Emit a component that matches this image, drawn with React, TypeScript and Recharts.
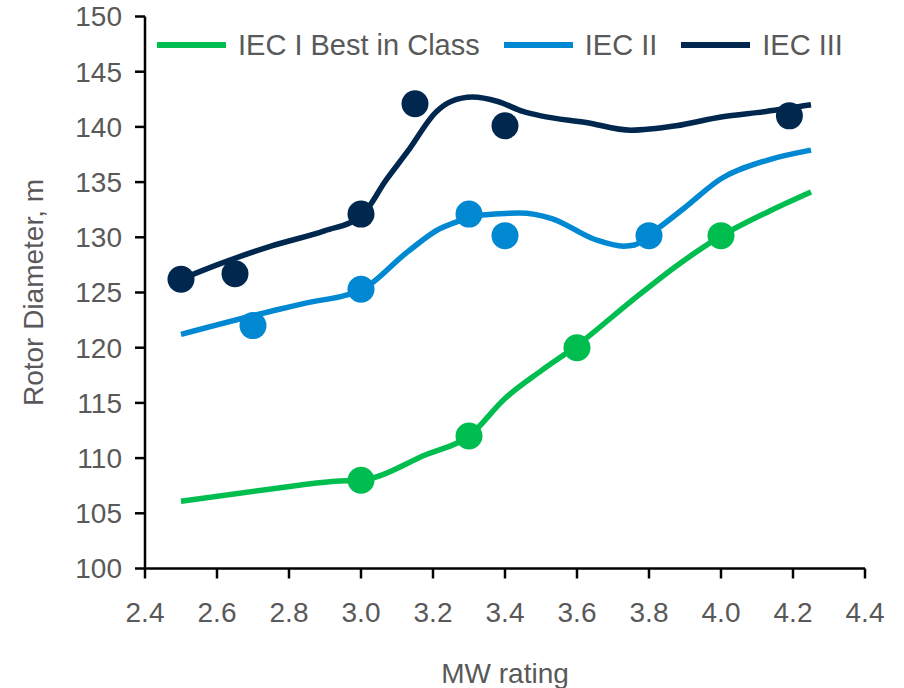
import React from 'react';
import { ComposedChart, Line, Scatter, XAxis, YAxis, Legend, Label } from 'recharts';

// Axis ticks
const xTicks = [2.4, 2.6, 2.8, 3.0, 3.2, 3.4, 3.6, 3.8, 4.0, 4.2, 4.4];
const yTicks = [100, 105, 110, 115, 120, 125, 130, 135, 140, 145, 150];

// Series names and colours
const seriesNames = ['IEC I Best in Class', 'IEC II', 'IEC III'];
const seriesColors = ['#00BD4F', '#0089D2', '#00284F'];

// Trend curves: [MW rating, rotor diameter m]
const iec1Curve: [number, number][] = [
  [2.5, 106.1], [2.75, 107.2], [2.93, 107.9], [3.0, 108.0], [3.18, 110.3],
  [3.3, 112.0], [3.4, 115.4], [3.5, 117.9], [3.6, 120.2], [3.75, 124.2],
  [3.88, 127.5], [4.0, 130.1], [4.13, 132.3], [4.25, 134.1],
];
const iec2Curve: [number, number][] = [
  [2.5, 121.2], [2.75, 123.3], [2.87, 124.2], [2.94, 124.6], [3.0, 125.2],
  [3.13, 128.7], [3.22, 130.8], [3.25, 131.2], [3.33, 132.0], [3.44, 132.2],
  [3.53, 131.7], [3.65, 129.8], [3.73, 129.2], [3.76, 129.3], [3.8, 130.2],
  [3.9, 132.7], [4.0, 135.3], [4.13, 137.0], [4.25, 137.9],
];
const iec3Curve: [number, number][] = [
  [2.5, 126.2], [2.6, 127.5], [2.75, 129.2], [2.9, 130.6], [3.0, 131.9],
  [3.07, 135.2], [3.13, 137.8], [3.21, 141.4], [3.25, 142.3], [3.31, 142.7],
  [3.38, 142.3], [3.45, 141.4], [3.5, 141.0], [3.625, 140.4], [3.75, 139.7],
  [3.875, 140.1], [4.0, 140.9], [4.125, 141.4], [4.25, 142.0],
];

// Individual turbine models: [MW rating, rotor diameter m]
const iec1Turbines: [number, number][] = [[3.0, 108.0], [3.3, 112.0], [3.6, 120.0], [4.0, 130.15]];
const iec2Turbines: [number, number][] = [[2.7, 122.0], [3.0, 125.3], [3.3, 132.1], [3.4, 130.15], [3.8, 130.15]];
const iec3Turbines: [number, number][] = [[2.5, 126.2], [2.65, 126.7], [3.0, 132.1], [3.15, 142.1], [3.4, 140.1], [4.19, 141.0]];

const toPoints = (arr: [number, number][]) => arr.map(([x, y]) => ({ x, y }));

const FONT = '"Liberation Sans", Arial, sans-serif';
const TEXT_COLOR = '#595959';
const AXIS_COLOR = '#000000';

const dotShape = (color: string) => (props: any) => (
  <circle cx={props.cx} cy={props.cy} r={13.5} fill={color} />
);

const LegendContent = (props: any) => {
  const items = (props.payload || []).filter((p: any) => p.type !== 'none');
  return (
    <div style={{ display: 'flex', alignItems: 'center', height: 34, fontFamily: FONT }}>
      {items.map((p: any, i: number) => (
        <div key={i} style={{ display: 'flex', alignItems: 'center', marginRight: 24 }}>
          <div style={{ width: 69, height: 6, background: p.color }} />
          <span style={{ marginLeft: 12, fontSize: 29, color: TEXT_COLOR, whiteSpace: 'nowrap' }}>{p.value}</span>
        </div>
      ))}
    </div>
  );
};

const YTitle = (props: any) => {
  const vb = props.viewBox;
  const cx = vb.x + 33;
  const cy = vb.y + vb.height / 2;
  return (
    <text x={cx} y={cy} transform={`rotate(-90 ${cx} ${cy})`} textAnchor="middle" dominantBaseline="central"
      fontFamily={FONT} fontSize={28} fill={TEXT_COLOR}>
      Rotor Diameter, m
    </text>
  );
};

const XTitle = (props: any) => {
  const vb = props.viewBox;
  return (
    <text x={vb.x + vb.width / 2} y={vb.y + 114} textAnchor="middle" fontFamily={FONT} fontSize={28} fill={TEXT_COLOR}>
      MW rating
    </text>
  );
};

export default function App() {
  const tickStyle = { fontFamily: FONT, fontSize: 28, fill: TEXT_COLOR };
  return (
    <div style={{ position: 'absolute', left: 0, top: 0, background: '#fff' }}>
      <ComposedChart width={904} height={688} margin={{ top: 16.5, right: 39, bottom: 0, left: 0 }}>
        <XAxis
          type="number"
          dataKey="x"
          domain={[2.4, 4.4]}
          ticks={xTicks}
          allowDataOverflow
          interval={0}
          tickFormatter={(v: number) => v.toFixed(1)}
          height={119.5}
          tickSize={10}
          tickMargin={24}
          tick={tickStyle}
          axisLine={{ stroke: AXIS_COLOR, strokeWidth: 2.5 }}
          tickLine={{ stroke: AXIS_COLOR, strokeWidth: 2.5 }}
        >
          <Label content={<XTitle />} />
        </XAxis>
        <YAxis
          type="number"
          domain={[100, 150]}
          ticks={yTicks}
          allowDataOverflow
          interval={0}
          width={145}
          tickSize={10}
          tickMargin={13}
          tick={tickStyle}
          axisLine={{ stroke: AXIS_COLOR, strokeWidth: 2.5 }}
          tickLine={{ stroke: AXIS_COLOR, strokeWidth: 2.5 }}
        >
          <Label content={<YTitle />} />
        </YAxis>
        <Legend
          layout="horizontal"
          verticalAlign="middle"
          align="center"
          content={<LegendContent />}
          wrapperStyle={{ top: 28, left: 157, width: 'auto' }}
        />
        <Line data={toPoints(iec1Curve)} dataKey="y" name={seriesNames[0]} type="monotone" stroke={seriesColors[0]}
          strokeWidth={5.5} dot={false} activeDot={false} isAnimationActive={false} />
        <Line data={toPoints(iec2Curve)} dataKey="y" name={seriesNames[1]} type="monotone" stroke={seriesColors[1]}
          strokeWidth={5.5} dot={false} activeDot={false} isAnimationActive={false} />
        <Line data={toPoints(iec3Curve)} dataKey="y" name={seriesNames[2]} type="monotone" stroke={seriesColors[2]}
          strokeWidth={5.5} dot={false} activeDot={false} isAnimationActive={false} />
        <Scatter data={toPoints(iec1Turbines)} dataKey="y" legendType="none" shape={dotShape(seriesColors[0])} isAnimationActive={false} />
        <Scatter data={toPoints(iec2Turbines)} dataKey="y" legendType="none" shape={dotShape(seriesColors[1])} isAnimationActive={false} />
        <Scatter data={toPoints(iec3Turbines)} dataKey="y" legendType="none" shape={dotShape(seriesColors[2])} isAnimationActive={false} />
      </ComposedChart>
    </div>
  );
}
